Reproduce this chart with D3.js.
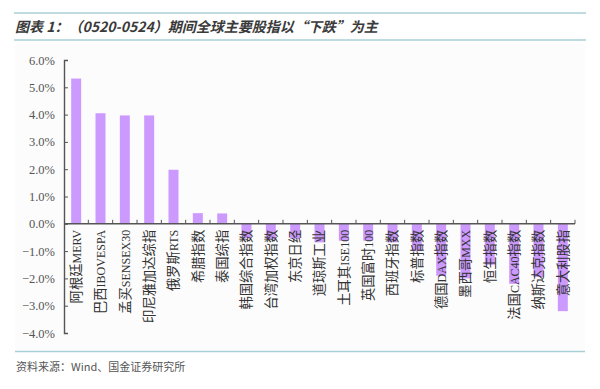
<!DOCTYPE html>
<html>
<head>
<meta charset="utf-8">
<script src="https://cdn.jsdelivr.net/npm/d3@7"></script>
<style>
  body { margin: 0; background: #fff; }
  svg { display: block; }
</style>
</head>
<body>
<div id="chart"></div>
<script>
// index names, left to right
const categories = [
    "阿根廷MERV", "巴西IBOVESPA", "孟买SENSEX30", "印尼雅加达综指", "俄罗斯RTS",
    "希腊指数", "泰国综指", "韩国综合指数", "台湾加权指数", "东京日经",
    "道琼斯工业", "土耳其ISE100", "英国富时100", "西班牙指数", "标普指数",
    "德国DAX指数", "墨西哥MXX", "恒生指数", "法国CAC40指数", "纳斯达克指数", "意大利股指"
];
// weekly change, %
const changes = [
    5.32, 4.05, 3.97, 3.97, 1.98,
    0.39, 0.38, -0.53, -0.57, -0.55,
    -0.68, -0.62, -0.62, -0.68, -1.0,
    -1.9, -2.0, -1.5, -2.2, -1.95, -3.2
];
const yTicks = [6, 5, 4, 3, 2, 1, 0, -1, -2, -3, -4];

const titleText = "图表 1：（0520-0524）期间全球主要股指以“下跌”为主";
const sourceText = "资料来源：Wind、国金证券研究所";

const W = 600, H = 389;
const plot = {left: 64, right: 575, top: 60, bottom: 333};

const svg = d3.select("#chart").append("svg")
    .attr("width", W)
    .attr("height", H);

// header rules + title
svg.append("line")
    .attr("x1", 14).attr("x2", 586).attr("y1", 13).attr("y2", 13)
    .style("stroke", "#a8cfd6").style("stroke-width", 1.5);
svg.append("line")
    .attr("x1", 14).attr("x2", 586).attr("y1", 40).attr("y2", 40)
    .style("stroke", "#a8cfd6").style("stroke-width", 1.5);
svg.append("text")
    .attr("x", 15).attr("y", 32)
    .attr("font-family", "'Noto Sans CJK SC', sans-serif")
    .attr("font-size", 14)
    .attr("font-weight", "bold")
    .attr("font-style", "italic")
    .style("fill", "#3a3a3a")
    .text(titleText);

// faint panel behind the chart
svg.append("rect")
    .attr("x", 15).attr("y", 44).attr("width", 570).attr("height", 306)
    .style("fill", "#fcfcfc");

let x = d3.scaleBand()
    .domain(categories)
    .range([plot.left, plot.right])
    .paddingInner(0.59)
    .paddingOuter(0.295);

let y = d3.scaleLinear()
    .domain([-4, 6])
    .range([plot.bottom, plot.top]);

// bars
svg.selectAll(".bar")
    .data(categories)
    .enter().append("rect")
    .attr("class", "bar")
    .attr("x", d => x(d))
    .attr("width", x.bandwidth())
    .attr("y", (d, i) => y(Math.max(0, changes[i])))
    .attr("height", (d, i) => Math.abs(y(changes[i]) - y(0)))
    .style("fill", "#cc99ff");

// y axis
svg.append("g")
    .attr("transform", "translate(" + plot.left + ",0)")
    .call(d3.axisLeft(y)
        .tickValues(yTicks)
        .tickSize(-4)
        .tickPadding(9)
        .tickFormat(d => d3.format(".1f")(d) + "%"))
    .call(g => g.select(".domain").style("stroke", "#555").style("stroke-width", 1.4))
    .call(g => g.selectAll(".tick line").style("stroke", "#555"))
    .call(g => g.selectAll("text")
        .attr("font-family", "'Liberation Serif', 'DejaVu Serif', serif")
        .attr("font-size", 12.5)
        .style("fill", "#555"));

// x axis at zero
svg.append("line")
    .attr("x1", plot.left).attr("x2", plot.right)
    .attr("y1", y(0)).attr("y2", y(0))
    .style("stroke", "#555").style("stroke-width", 1.4);

svg.selectAll(".xtick")
    .data(categories)
    .enter().append("line")
    .attr("class", "xtick")
    .attr("x1", (d, i) => plot.left + (i + 1) * x.step())
    .attr("x2", (d, i) => plot.left + (i + 1) * x.step())
    .attr("y1", y(0))
    .attr("y2", y(0) - 4)
    .style("stroke", "#555");

// rotated category labels: CJK runs a bit larger, latin runs in serif
function runs(s) {
    return s.match(/[\u4e00-\u9fff]+|[^\u4e00-\u9fff]+/g);
}

let labels = svg.selectAll(".cat")
    .data(categories)
    .enter().append("text")
    .attr("class", "cat")
    .attr("transform", d => "translate(" + (x(d) + x.bandwidth() / 2 + 4.8) + "," + (y(0) + 6) + ") rotate(-90)")
    .attr("text-anchor", "end")
    .style("fill", "#333");

labels.selectAll("tspan")
    .data(d => runs(d))
    .enter().append("tspan")
    .attr("font-family", t => /[\u4e00-\u9fff]/.test(t) ? "'Noto Sans CJK SC', sans-serif" : "'Liberation Serif', serif")
    .attr("font-size", t => /[\u4e00-\u9fff]/.test(t) ? 13.3 : 12)
    .text(t => t);

// footer rule + source
svg.append("line")
    .attr("x1", 15).attr("x2", 585).attr("y1", 351.5).attr("y2", 351.5)
    .style("stroke", "#a8cfd6").style("stroke-width", 1.5);
svg.append("text")
    .attr("x", 16).attr("y", 371)
    .attr("font-family", "'Noto Sans CJK SC', sans-serif")
    .attr("font-size", 11)
    .style("fill", "#555")
    .text(sourceText);
</script>
</body>
</html>
